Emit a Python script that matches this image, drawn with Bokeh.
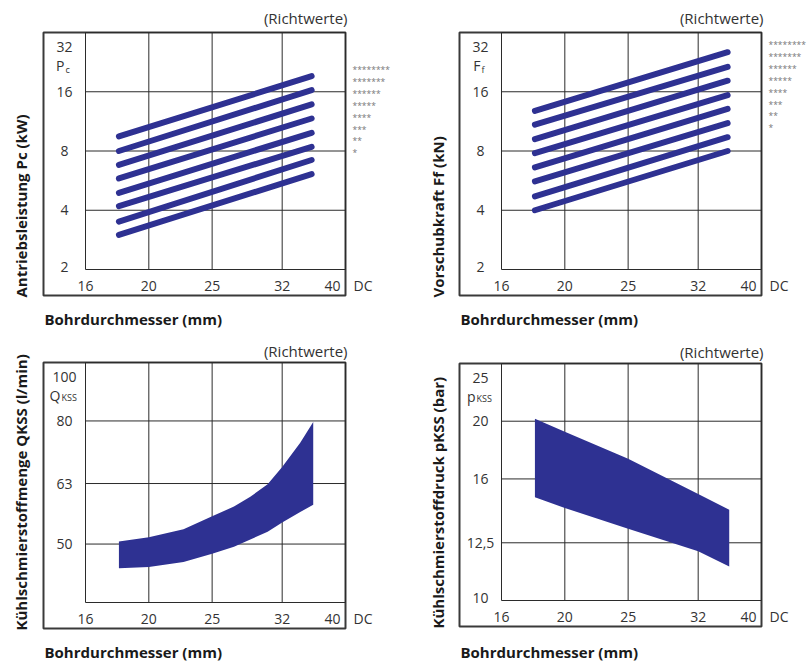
from math import pi
from bokeh.plotting import figure
from bokeh.layouts import row, column
from bokeh.models import Range1d
from bokeh.core.properties import value
from bokeh.embed import file_html
from bokeh.resources import INLINE

# ---------------- data ----------------
x_ticks = [16, 20, 25, 32, 40]
x_tick_labels = ["16", "20", "25", "32", "40"]
x_unit = "DC"
x_title = "Bohrdurchmesser (mm)"
note = "(Richtwerte)"
star_labels = ["********", "*******", "******", "*****", "****", "***", "**", "*"]

# Antriebsleistung Pc (kW): 8 lines, start/end values
line_x = [18, 35.5]
pc_start = [9.5, 8.0, 6.8, 5.8, 4.9, 4.2, 3.5, 3.0]
pc_end = [19.2, 16.3, 13.8, 11.7, 9.9, 8.4, 7.2, 6.1]
pc_ticks = [2, 4, 8, 16, 32]
pc_tick_labels = ["2", "4", "8", "16", "32"]

# Vorschubkraft Ff (kN)
ff_start = [12.8, 10.9, 9.2, 7.8, 6.6, 5.6, 4.7, 4.0]
ff_end = [25.4, 21.4, 18.2, 15.4, 13.1, 11.1, 9.4, 8.0]
ff_ticks = [2, 4, 8, 16, 32]
ff_tick_labels = ["2", "4", "8", "16", "32"]

# Kühlschmierstoffmenge QKSS (l/min): band
q_x = [18, 20, 22.6, 25, 27, 28.6, 30.4, 32, 34.1, 35.7]
q_upper = [50.5, 51.3, 52.9, 55.6, 57.7, 59.9, 62.8, 67.1, 73.6, 79.7]
q_lower = [45.6, 45.8, 46.7, 48.2, 49.5, 50.9, 52.4, 54.3, 56.5, 58.1]
q_axis_min = 40
q_ticks = [50, 63, 80, 100]
q_tick_labels = ["50", "63", "80", "100"]

# Kühlschmierstoffdruck pKSS (bar): band
p_x = [18, 20, 25, 32, 35.7]
p_upper = [20.2, 19.2, 17.3, 15.1, 14.2]
p_lower = [14.9, 14.3, 13.2, 12.1, 11.4]
p_ticks = [10, 12.5, 16, 20, 25]
p_tick_labels = ["10", "12,5", "16", "20", "25"]

# ---------------- style ----------------
FONT = value("Open Sans")
NAVY = "#2e3192"
GRID = "#2b2b2b"
TXT = "#333333"
BOX_W = 302
PAD_L = 42
PAD_B = 26
X_MIN, X_MAX = x_ticks[0], x_ticks[-1]


def make_panel(fig_w, fig_h, bx0, by0, bh, y_min, y_max, y_ticks, y_labels,
               y_title, sym, sub, sub_caps, sym_dx, star_top, note_dy,
               title_dx, xtitle_dy):
    # pixel geometry of the boxed plot (figure coordinates, y downward)
    gx0 = bx0 + PAD_L          # pixel of x = 16
    gx1 = bx0 + BOX_W          # pixel of x = 40
    gy0 = by0                  # pixel of y_max
    gy1 = by0 + bh - PAD_B     # pixel of y_min
    kx = (X_MAX / X_MIN) ** (1.0 / (gx1 - gx0))
    ky = (y_max / y_min) ** (1.0 / (gy1 - gy0))
    x_start = X_MIN * kx ** (-gx0)
    x_end = X_MAX * kx ** (fig_w - gx1)
    y_start = y_min * ky ** (-(fig_h - gy1))
    y_end = y_max * ky ** gy0
    x_box = X_MIN * kx ** (-PAD_L)
    y_box = y_min * ky ** (-PAD_B)

    p = figure(width=fig_w, height=fig_h, frame_width=fig_w, frame_height=fig_h,
               x_axis_type="log", y_axis_type="log",
               x_axis_location=None, y_axis_location=None,
               x_range=Range1d(x_start, x_end), y_range=Range1d(y_start, y_end),
               toolbar_location=None, output_backend="svg", title=None,
               min_border_left=0, min_border_right=0,
               min_border_top=0, min_border_bottom=0)
    p.outline_line_color = None
    p.background_fill_color = "white"
    p.border_fill_color = "white"
    p.xgrid.visible = False
    p.ygrid.visible = False

    # outer box
    p.quad(left=[x_box], right=[X_MAX], bottom=[y_box], top=[y_max],
           fill_color=None, line_color="#3a3a3a", line_width=2)

    # grid lines (incl. axis lines) from tick lists
    n = len(x_ticks)
    p.segment(x0=x_ticks, y0=[y_min] * n, x1=x_ticks, y1=[y_max] * n,
              line_color=GRID, line_width=1)
    gy = sorted(set([y_min] + list(y_ticks)))
    m = len(gy)
    p.segment(x0=[X_MIN] * m, y0=gy, x1=[X_MAX] * m, y1=gy,
              line_color=GRID, line_width=1)

    # x tick labels
    p.text(x=x_ticks[:-1], y=[y_min] * (n - 1), text=x_tick_labels[:-1],
           text_align="center", text_baseline="middle", y_offset=16,
           text_font=FONT, text_font_size="14px", text_color=TXT)
    p.text(x=x_ticks[-1:], y=[y_min], text=x_tick_labels[-1:],
           text_align="right", text_baseline="middle", y_offset=16, x_offset=-5,
           text_font=FONT, text_font_size="14px", text_color=TXT)
    # y tick labels
    for v, lab in zip(y_ticks, y_labels):
        dy = 14 if v == y_max else (-3 if v == y_min else 0)
        p.text(x=[X_MIN], y=[v], text=[lab], text_align="center",
               text_baseline="middle", x_offset=-21, y_offset=dy,
               text_font=FONT, text_font_size="14px", text_color=TXT)
    # quantity symbol under the top label
    p.text(x=[X_MIN], y=[y_max], text=[sym], text_align="right",
           text_baseline="middle", x_offset=sym_dx, y_offset=33,
           text_font=FONT, text_font_size="14px", text_color=TXT)
    p.text(x=[X_MIN], y=[y_max], text=[sub], text_align="left",
           text_baseline="middle", x_offset=sym_dx + 1,
           y_offset=34.5 if sub_caps else 37,
           text_font=FONT, text_font_size="9px", text_color=TXT)

    # texts around the box
    p.text(x=[X_MAX], y=[y_max], text=[note], x_offset=2, y_offset=-note_dy,
           text_align="right", text_baseline="middle",
           text_font=FONT, text_font_size="15px", text_color=TXT)
    p.text(x=[X_MAX], y=[y_min], text=[x_unit], x_offset=8, y_offset=16,
           text_align="left", text_baseline="middle",
           text_font=FONT, text_font_size="14px", text_color=TXT)
    p.text(x=[x_box], y=[y_box], text=[y_title], x_offset=title_dx, y_offset=2,
           angle=pi / 2, text_align="left", text_baseline="middle",
           text_font=FONT, text_font_size="15px", text_font_style="bold",
           text_color="#1a1a1a")
    p.text(x=[x_box], y=[y_box], text=[x_title], x_offset=1, y_offset=xtitle_dy,
           text_align="left", text_baseline="middle",
           text_font=FONT, text_font_size="15px", text_font_style="bold",
           text_color="#1a1a1a")
    if star_top is not None:
        k = len(star_labels)
        p.text(x=[X_MAX] * k, y=[y_max] * k, text=star_labels, x_offset=7,
               y_offset=[star_top + i * 11.9 for i in range(k)],
               text_align="left", text_baseline="middle",
               text_font=FONT, text_font_size="8.5px", text_color="#777777")
    return p


# top-left: Antriebsleistung
p1 = make_panel(404, 330, 43, 32, 263, pc_ticks[0], pc_ticks[-1], pc_ticks,
                pc_tick_labels, "Antriebsleistung Pc (kW)", "P", "c", False, -21,
                37, 15, -23, 23)
p1.multi_line(xs=[line_x] * len(pc_start),
              ys=[[s, e] for s, e in zip(pc_start, pc_end)],
              line_color=NAVY, line_width=6, line_cap="round")

# top-right: Vorschubkraft
p2 = make_panel(404, 330, 55, 32, 263, ff_ticks[0], ff_ticks[-1], ff_ticks,
                ff_tick_labels, "Vorschubkraft Ff (kN)", "F", "f", False, -21,
                12, 15, -22, 23)
p2.multi_line(xs=[line_x] * len(ff_start),
              ys=[[s, e] for s, e in zip(ff_start, ff_end)],
              line_color=NAVY, line_width=6, line_cap="round")

# bottom-left: Kühlschmierstoffmenge
p3 = make_panel(404, 333, 43, 32, 266, q_axis_min, q_ticks[-1], q_ticks,
                q_tick_labels, "Kühlschmierstoffmenge QKSS (l/min)", "Q", "KSS",
                True, -25, None, 12, -23, 23)
p3.varea(x=q_x, y1=q_lower, y2=q_upper, fill_color=NAVY)

# bottom-right: Kühlschmierstoffdruck
p4 = make_panel(404, 333, 55, 33, 263, p_ticks[0], p_ticks[-1], p_ticks,
                p_tick_labels, "Kühlschmierstoffdruck pKSS (bar)", "p", "KSS",
                True, -26, None, 12, -22, 25)
p4.varea(x=p_x, y1=p_lower, y2=p_upper, fill_color=NAVY)

layout = column(row(p1, p2), row(p3, p4))
open("out.html", "w").write(file_html(layout, INLINE))
